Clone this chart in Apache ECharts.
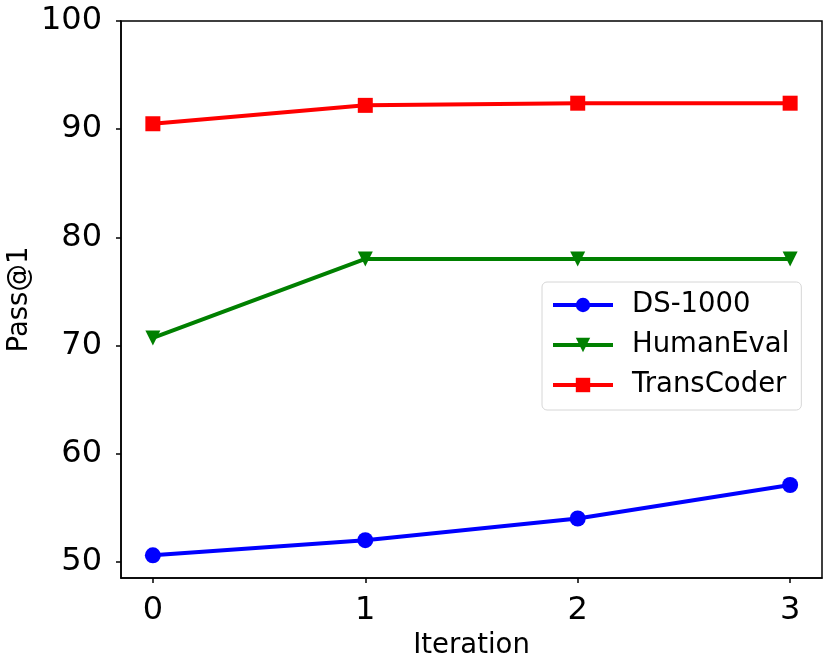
<!DOCTYPE html>
<html>
<head>
<meta charset="utf-8">
<script src="https://cdn.jsdelivr.net/npm/echarts@6/dist/echarts.min.js"></script>
<style>
  html, body { margin: 0; padding: 0; background: #fff; }
  #chart { width: 831px; height: 669px; }
</style>
</head>
<body>
<div id="chart"></div>
<script>
var iterations = [0, 1, 2, 3];
var ds1000 = [50.6, 52.0, 54.0, 57.1];
var humanEval = [70.7, 78.0, 78.0, 78.0];
var transCoder = [90.5, 92.2, 92.4, 92.4];
var yTicks = [50, 60, 70, 80, 90, 100];

function pairs(xs, ys) {
    return xs.map(function (x, i) { return [x, ys[i]]; });
}

var dom = document.getElementById('chart');
var myChart = echarts.init(dom);
var font = 'DejaVu Sans';

var option = {
    animation: false,
    textStyle: { fontFamily: font },
    grid: {
        left: 121, right: 9, top: 21, bottom: 91,
        outerBoundsMode: 'none',
        containLabel: false,
        show: true, borderColor: '#000', borderWidth: 1.5
    },
    // y axis title placed by hand, the axis name kept drifting left
    graphic: [{
        type: 'text',
        x: 20, y: 299.5,
        rotation: Math.PI / 2,
        style: {
            text: 'Pass@1',
            fontFamily: font, fontSize: 27.5, fill: '#000',
            align: 'center', verticalAlign: 'middle'
        }
    }],
    legend: {
        orient: 'vertical',
        left: 542, top: 282,
        itemWidth: 60, itemHeight: 18, itemGap: 12,
        padding: [9, 12, 11, 9],
        borderColor: '#d6d6d6', borderWidth: 1, borderRadius: 5,
        backgroundColor: 'rgba(255,255,255,0.8)',
        lineStyle: { width: 4 },
        textStyle: { fontFamily: font, fontSize: 27.5, color: '#000', padding: [0, 0, 0, 14] },
        data: ['DS-1000', 'HumanEval', 'TransCoder']
    },
    xAxis: {
        type: 'value',
        min: -0.15, max: 3.15,
        name: 'Iteration',
        nameLocation: 'middle',
        nameGap: 54,
        nameTextStyle: { fontFamily: font, fontSize: 27.5, color: '#000' },
        axisLine: { onZero: false, lineStyle: { color: '#000', width: 1.5 } },
        axisTick: { show: true, length: 5, lineStyle: { color: '#000', width: 1.5 }, customValues: iterations },
        axisLabel: { fontFamily: font, fontSize: 32, color: '#000', margin: 17, customValues: iterations },
        splitLine: { show: false }
    },
    yAxis: {
        type: 'value',
        min: 48.5, max: 100,
        axisLine: { show: true, onZero: false, lineStyle: { color: '#000', width: 1.5 } },
        axisTick: { show: true, length: 5, lineStyle: { color: '#000', width: 1.5 }, customValues: yTicks },
        axisLabel: { fontFamily: font, fontSize: 32, color: '#000', margin: 19, customValues: yTicks },
        splitLine: { show: false }
    },
    series: [
        {
            name: 'DS-1000', type: 'line',
            data: pairs(iterations, ds1000),
            symbol: 'circle', symbolSize: 16,
            lineStyle: { color: '#0000ff', width: 4 },
            itemStyle: { color: '#0000ff' }
        },
        {
            name: 'HumanEval', type: 'line',
            data: pairs(iterations, humanEval),
            symbol: 'triangle', symbolSize: 15, symbolRotate: 180,
            lineStyle: { color: '#008000', width: 4 },
            itemStyle: { color: '#008000' }
        },
        {
            name: 'TransCoder', type: 'line',
            data: pairs(iterations, transCoder),
            symbol: 'rect', symbolSize: 15,
            lineStyle: { color: '#ff0000', width: 4 },
            itemStyle: { color: '#ff0000' }
        }
    ]
};

myChart.setOption(option, true);
</script>
</body>
</html>
